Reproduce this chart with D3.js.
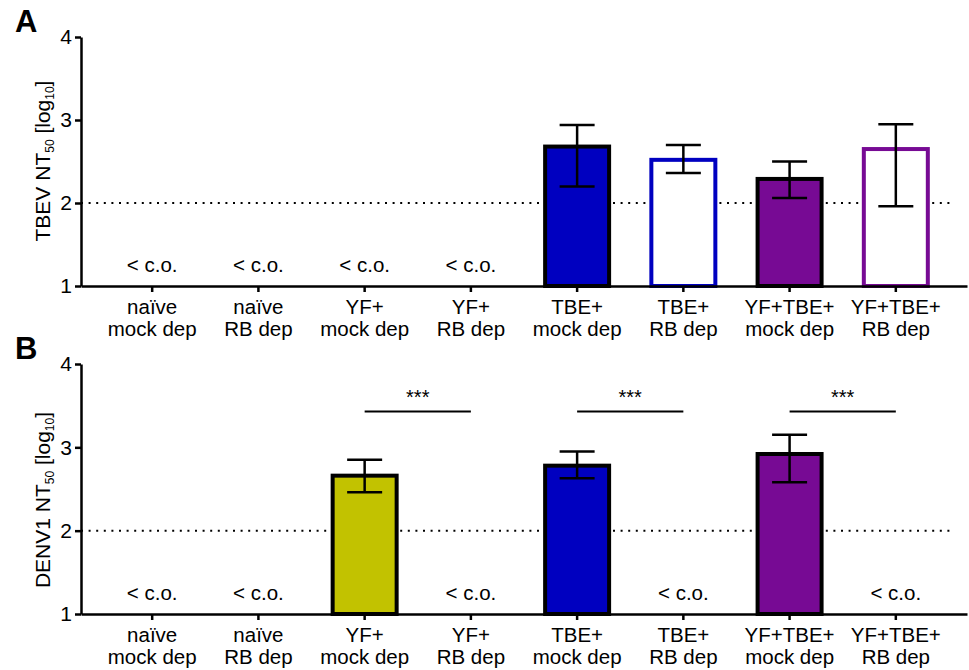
<!DOCTYPE html>
<html>
<head>
<meta charset="utf-8">
<script src="https://cdn.jsdelivr.net/npm/d3@7"></script>
<style>
  body { margin: 0; background: #fff; }
  text { font-family: "Liberation Sans", Arial, sans-serif; }
</style>
</head>
<body>
<svg id="chart" width="969" height="670"></svg>
<script>
// groups on the x axis (two label lines each)
let groupTop = ['naïve', 'naïve', 'YF+', 'YF+', 'TBE+', 'TBE+', 'YF+TBE+', 'YF+TBE+']
let groupBottom = ['mock dep', 'RB dep', 'mock dep', 'RB dep', 'mock dep', 'RB dep', 'mock dep', 'RB dep']

// panel A: TBEV NT50 (log10), null = below cut-off
let tbevMean = [null, null, null, null, 2.68, 2.52, 2.29, 2.65]
let tbevLow = [null, null, null, null, 2.20, 2.36, 2.06, 1.96]
let tbevHigh = [null, null, null, null, 2.94, 2.70, 2.50, 2.95]

// panel B: DENV1 NT50 (log10)
let denvMean = [null, null, 2.66, null, 2.78, null, 2.92, null]
let denvLow = [null, null, 2.46, null, 2.63, null, 2.58, null]
let denvHigh = [null, null, 2.85, null, 2.95, null, 3.15, null]

// significance brackets in panel B
let sigPairs = [[2, 3], [4, 5], [6, 7]]
let sigLevel = 3.43

let yTicks = [1, 2, 3, 4]
let cutoff = 2

// bar styles per group: [fill, stroke]
let barStyle = [
    null, null,
    ['#c2c200', '#000'], null,
    ['#0000c0', '#000'], ['#fff', '#0000c0'],
    ['#770a94', '#000'], ['#fff', '#770a94']
]

let fontSize = 20.5

let svg = d3.select('#chart')
let ids = d3.range(groupTop.length)

let x = d3.scaleBand()
    .domain(ids)
    .range([81, 967])
    .paddingInner(0.36)
    .paddingOuter(0.35)

let drawPanel = (opts) => {
    let y = d3.scaleLinear().domain([1, 4]).range([opts.bottom, opts.top])
    let g = svg.append('g')

    // cut-off line
    g.append('line')
        .attr('x1', x.range()[0])
        .attr('x2', 953)
        .attr('y1', y(cutoff))
        .attr('y2', y(cutoff))
        .attr('stroke', '#000')
        .attr('stroke-width', 2)
        .attr('stroke-dasharray', '2,5.6')

    let rows = ids.map((i) => ({ i: i, m: opts.mean[i], lo: opts.low[i], hi: opts.high[i] }))

    // bars
    g.selectAll('rect.bar')
        .data(rows.filter((r) => r.m !== null))
        .enter()
        .append('rect')
        .attr('class', 'bar')
        .attr('x', (r) => x(r.i) + 2)
        .attr('width', x.bandwidth() - 4)
        .attr('y', (r) => y(r.m))
        .attr('height', (r) => y(1) - y(r.m))
        .attr('fill', (r) => barStyle[r.i][0])
        .attr('stroke', (r) => barStyle[r.i][1])
        .attr('stroke-width', 4)

    // error bars
    let err = g.selectAll('g.err')
        .data(rows.filter((r) => r.m !== null))
        .enter()
        .append('g')
        .attr('transform', (r) => 'translate(' + (x(r.i) + x.bandwidth() / 2) + ',0)')
    err.append('line')
        .attr('y1', (r) => y(r.lo))
        .attr('y2', (r) => y(r.hi))
        .attr('stroke', '#000')
        .attr('stroke-width', 2.5)
    ;['lo', 'hi'].forEach((k) => {
        err.append('line')
            .attr('x1', -17.5)
            .attr('x2', 17.5)
            .attr('y1', (r) => y(r[k]))
            .attr('y2', (r) => y(r[k]))
            .attr('stroke', '#000')
            .attr('stroke-width', 2.5)
    })

    // below cut-off labels
    g.selectAll('text.co')
        .data(rows.filter((r) => r.m === null))
        .enter()
        .append('text')
        .attr('x', (r) => x(r.i) + x.bandwidth() / 2)
        .attr('y', y(1.17))
        .attr('text-anchor', 'middle')
        .attr('font-size', fontSize)
        .text('< c.o.')

    // axes
    let xAxis = g.append('g')
        .attr('transform', 'translate(0,' + y(1) + ')')
        .call(d3.axisBottom(x).tickSize(6).tickSizeOuter(0).tickFormat(''))
    xAxis.select('.domain').attr('stroke-width', 2.5)
    xAxis.selectAll('.tick line').attr('stroke-width', 2.5)
    let lab = xAxis.selectAll('.tick text')
        .attr('y', 0)
        .attr('dy', 0)
        .attr('font-size', fontSize)
        .attr('fill', '#000')
    lab.append('tspan').attr('x', 0).attr('y', 28).text((i) => groupTop[i])
    lab.append('tspan').attr('x', 0).attr('y', 50).text((i) => groupBottom[i])

    let yAxis = g.append('g')
        .attr('transform', 'translate(' + x.range()[0] + ',0)')
        .call(d3.axisLeft(y).tickValues(yTicks).tickSize(6).tickSizeOuter(0).tickFormat(d3.format('d')))
    yAxis.select('.domain').attr('stroke-width', 2.5)
    yAxis.selectAll('.tick line').attr('stroke-width', 2.5)
    yAxis.selectAll('.tick text').attr('font-size', 21).attr('fill', '#000')

    // y title with subscripts
    let t = g.append('text')
        .attr('transform', 'translate(50,' + opts.titleY + ') rotate(-90)')
        .attr('text-anchor', 'middle')
        .attr('font-size', 21)
    t.append('tspan').text(opts.title + ' NT')
    t.append('tspan').attr('font-size', 12).attr('dy', 4).text('50')
    t.append('tspan').attr('dy', -4).text(' [log')
    t.append('tspan').attr('font-size', 12).attr('dy', 4).text('10')
    t.append('tspan').attr('dy', -4).text(']')

    // panel letter
    g.append('text')
        .attr('x', 15)
        .attr('y', opts.letterY)
        .attr('font-size', 31)
        .attr('font-weight', 'bold')
        .text(opts.letter)

    return y
}

drawPanel({ top: 37, bottom: 286, mean: tbevMean, low: tbevLow, high: tbevHigh,
    title: 'TBEV', titleY: 161, letter: 'A', letterY: 32 })

let yB = drawPanel({ top: 364, bottom: 614, mean: denvMean, low: denvLow, high: denvHigh,
    title: 'DENV1', titleY: 500, letter: 'B', letterY: 359 })

// significance bars
let sig = svg.append('g')
sigPairs.forEach((p) => {
    let x1 = x(p[0]) + x.bandwidth() / 2
    let x2 = x(p[1]) + x.bandwidth() / 2
    sig.append('line')
        .attr('x1', x1).attr('x2', x2)
        .attr('y1', yB(sigLevel)).attr('y2', yB(sigLevel))
        .attr('stroke', '#000')
        .attr('stroke-width', 2)
    sig.append('text')
        .attr('x', (x1 + x2) / 2)
        .attr('y', yB(sigLevel) - 8)
        .attr('text-anchor', 'middle')
        .attr('font-size', 20)
        .text('***')
})
</script>
</body>
</html>
